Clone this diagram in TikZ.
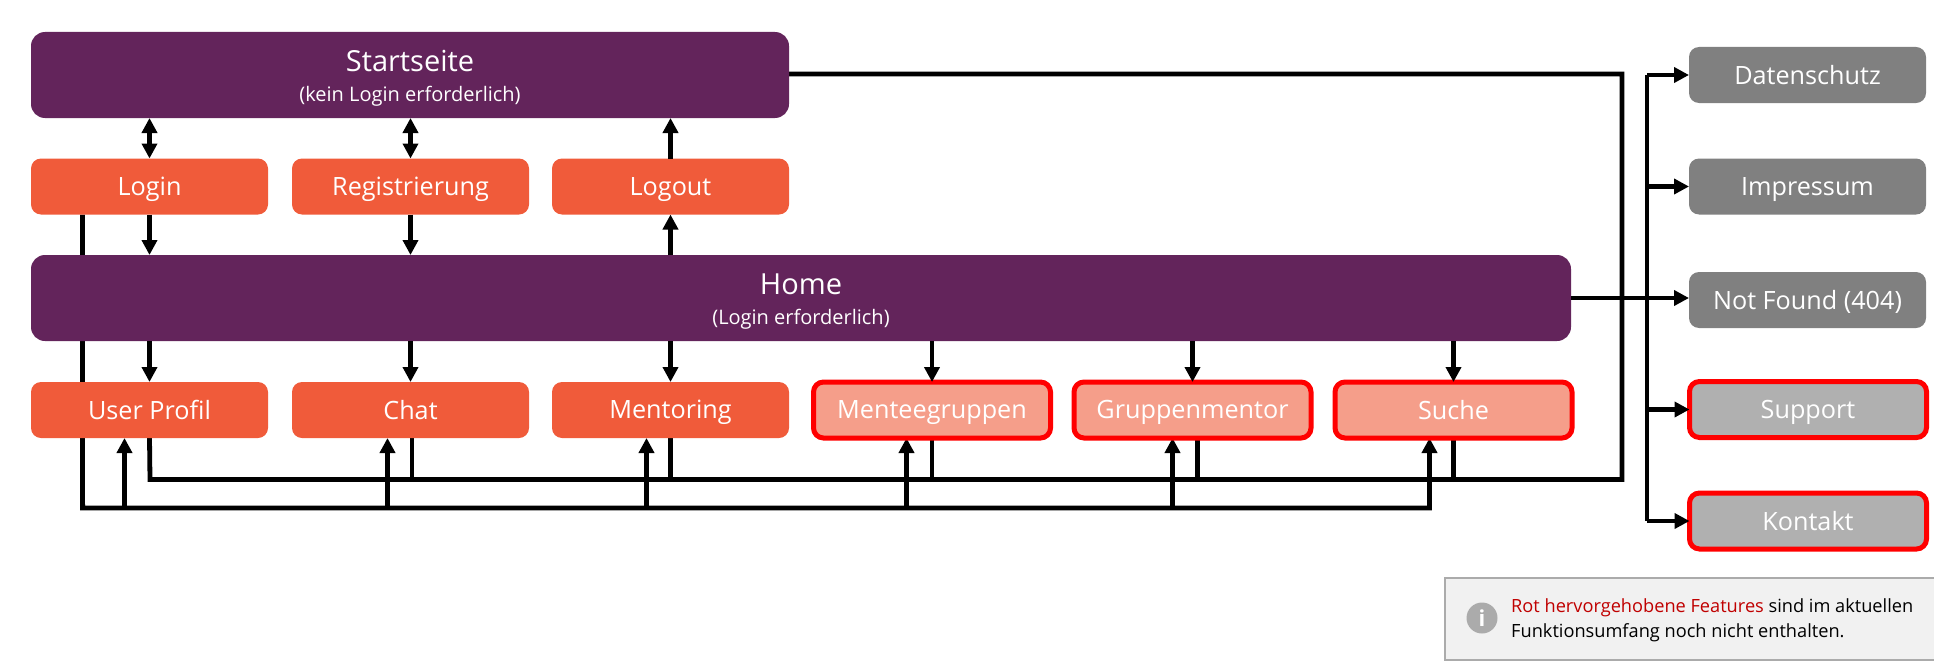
\documentclass[tikz,border=0pt]{standalone}
\usepackage{fontspec}
\setmainfont{Open Sans}
\usetikzlibrary{arrows.meta,backgrounds}
\definecolor{plum}{HTML}{63245B}
\definecolor{coral}{HTML}{F05B3A}
\definecolor{paleCoral}{HTML}{F59E8A}
\definecolor{midGray}{HTML}{808080}
\definecolor{paleGray}{HTML}{B0B0B0}
\definecolor{noteFill}{HTML}{F1F1F1}
\definecolor{noteLine}{HTML}{ABABAB}
\definecolor{noteRed}{HTML}{C00000}
\newcommand{\bigtxt}{\fontsize{25.2}{28}\selectfont}
\newcommand{\hubtxt}{\fontsize{29}{30}\selectfont}
\newcommand{\subtxt}{\fontsize{20}{21}\selectfont}
\newcommand{\boxstrut}{\rule[-6pt]{0pt}{30pt}}
\newcommand{\hubstrut}{\rule{0pt}{28.3pt}}
\tikzset{
  x=1pt,y=-1pt,
  box/.style={rectangle,inner sep=0pt,outer sep=0pt,text=white,font=\bigtxt,align=center,minimum width=237pt,minimum height=56pt,rounded corners=10pt},
  hub/.style={box,font=\hubtxt,fill=plum,rounded corners=14pt,minimum height=86pt},
  page/.style={box,fill=coral,execute at begin node=\boxstrut},
  planned/.style={box,fill=paleCoral,draw=red,line width=5pt,execute at begin node=\boxstrut},
  legal/.style={box,fill=midGray,execute at begin node=\boxstrut},
  plannedLegal/.style={box,fill=paleGray,draw=red,line width=5pt,execute at begin node=\boxstrut},
  link/.style={draw=black,line width=4.8pt,line join=miter},
  tip/.style={link,-{Triangle[length=15pt,width=15pt]}},
  both/.style={link,{Triangle[length=15pt,width=15pt]}-{Triangle[length=15pt,width=15pt]}},
}
\begin{document}
\begin{tikzpicture}
\useasboundingbox (0,0) rectangle (1934,661);
\node[hub,minimum width=758pt] (start) at (410,75) {\hubstrut Startseite\\{\subtxt (kein Login erforderlich)}};
\node[hub,minimum width=1540pt] (home) at (801,298) {\hubstrut Home\\{\subtxt (Login erforderlich)}};
\node[page] (login) at (149.5,186.5) {Login};
\node[page] (reg) at (410.5,186.5) {Registrierung};
\node[page] (logout) at (670.5,186.5) {Logout};
\node[page] (profil) at (149.5,410) {User Profil};
\node[page] (chat) at (410.5,410) {Chat};
\node[page] (mentoring) at (670.5,410) {Mentoring};
\node[planned] (mentee) at (932,410) {Menteegruppen};
\node[planned] (gruppe) at (1192.5,410) {Gruppenmentor};
\node[planned] (suche) at (1453.5,410) {Suche};
\node[legal] (daten) at (1807.5,75) {Datenschutz};
\node[legal] (impressum) at (1807.5,186.5) {Impressum};
\node[legal] (notfound) at (1807.5,300) {Not Found (404)};
\node[plannedLegal] (support) at (1808,409.5) {Support};
\node[plannedLegal] (kontakt) at (1808,521) {Kontakt};
\node[rectangle,draw=noteLine,fill=noteFill,line width=1.2pt,inner sep=0pt,outer sep=0pt,minimum width=490pt,minimum height=82pt] (note) at (1690,619) {};
\node[circle,fill=noteLine,text=white,inner sep=0pt,outer sep=0pt,minimum size=31pt,font=\bfseries\fontsize{22}{22}\selectfont] (info) at (1482,618) {i};
\node[anchor=west,inner sep=0pt,align=left,font=\fontsize{18.2}{25.5}\selectfont] (notetext) at (1511,620.5) {{\color{noteRed}Rot hervorgehobene Features} sind im aktuellen\\Funktionsumfang noch nicht enthalten.};
\coordinate (busA) at (82.6,508);
\coordinate (busB) at (150,479.5);
\coordinate (riser) at (1622,74);
\coordinate (spine) at (1647,75);
\begin{scope}[on background layer]
  % left bus: login to every page
  \draw[tip] ([xshift=-67pt]login.south) -- (busA) -- ([xshift=-24pt]suche.south |- busA) -- ([xshift=-24pt]suche.south);
  \draw[tip] ([xshift=-25pt]profil.south |- busA) -- ([xshift=-25pt]profil.south);
  \draw[tip] ([xshift=-23pt]chat.south |- busA) -- ([xshift=-23pt]chat.south);
  \draw[tip] ([xshift=-24pt]mentoring.south |- busA) -- ([xshift=-24pt]mentoring.south);
  \draw[tip] ([xshift=-25.5pt]mentee.south |- busA) -- ([xshift=-25.5pt]mentee.south);
  \draw[tip] ([xshift=-20pt]gruppe.south |- busA) -- ([xshift=-20pt]gruppe.south);
  % second bus: every page to the right-hand links
  \draw[link] (profil.south) -- (busB) -- (busB -| riser) -- (riser) -- (start.east |- riser);
  \draw[link] ([xshift=1.5pt]chat.south) -- ([xshift=1.5pt]chat.south |- busB);
  \draw[link] (mentoring.south) -- (mentoring.south |- busB);
  \draw[link] (mentee.south) -- (mentee.south |- busB);
  \draw[link] ([xshift=5pt]gruppe.south) -- ([xshift=5pt]gruppe.south |- busB);
  \draw[link] (suche.south) -- (suche.south |- busB);
\end{scope}
\draw[both] (login.north) -- (login.north |- start.south);
\draw[both] (reg.north) -- (reg.north |- start.south);
\draw[tip] (logout.north) -- (logout.north |- start.south);
\draw[tip] (logout.south |- home.north) -- (logout.south);
\draw[tip] (login.south) -- (login.south |- home.north);
\draw[tip] (reg.south) -- (reg.south |- home.north);
\draw[tip] (profil.north |- home.south) -- (profil.north);
\draw[tip] (chat.north |- home.south) -- (chat.north);
\draw[tip] (mentoring.north |- home.south) -- (mentoring.north);
\draw[tip] (mentee.north |- home.south) -- (mentee.north);
\draw[tip] (gruppe.north |- home.south) -- (gruppe.north);
\draw[tip] (suche.north |- home.south) -- (suche.north);
\draw[link] (spine) -- (spine |- kontakt.west);
\draw[tip] (spine) -- (spine -| daten.west);
\draw[tip] (spine |- impressum.west) -- (impressum.west);
\draw[tip] (home.east) -- (1689,298);
\draw[tip] (spine |- support.west) -- (support.west);
\draw[tip] (spine |- kontakt.west) -- (kontakt.west);
\end{tikzpicture}
\end{document}
